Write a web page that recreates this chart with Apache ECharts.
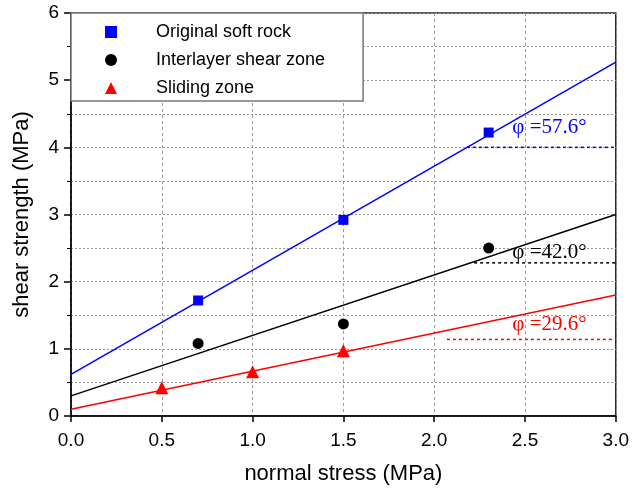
<!DOCTYPE html>
<html><head><meta charset="utf-8">
<script src="https://cdn.jsdelivr.net/npm/echarts@6.0.0/dist/echarts.min.js"></script>
<style>html,body{margin:0;padding:0;background:#fff}#c{width:632px;height:490px}</style>
</head><body><div id="c"></div>
<script>
// Data
const seriesNames = ['Original soft rock', 'Interlayer shear zone', 'Sliding zone'];
const rockX = [0.7, 1.5, 2.3];
const rockY = [1.72, 2.92, 4.22];
const shearX = [0.7, 1.5, 2.3];
const shearY = [1.08, 1.37, 2.50];
const slideX = [0.5, 1.0, 1.5];
const slideY = [0.42, 0.66, 0.97];
// fitted lines (endpoints at x = 0 and x = 3)
const fitX = [0, 3.0];
const rockFit = [0.62, 5.27];
const shearFit = [0.30, 3.00];
const slideFit = [0.10, 1.80];
// horizontal reference segments
const rockRefX = [2.18, 3.0];
const rockRefY = [4.0, 4.0];
const shearRefX = [2.22, 3.0];
const shearRefY = [2.28, 2.28];
const slideRefX = [2.07, 3.0];
const slideRefY = [1.14, 1.14];
// angle labels
const angleText = ['φ =57.6°', 'φ =42.0°', 'φ =29.6°'];
const angleX = [2.43, 2.43, 2.43];
const angleY = [4.29, 2.44, 1.36];
const colors = ['#0000ff', '#000000', '#ff0000'];

const zip = (xs, ys) => xs.map((x, i) => [x, ys[i]]);

const chart = echarts.init(document.getElementById('c'), null, {renderer: 'canvas'});
const font = 'Arial, "Liberation Sans", sans-serif';
const serif = '"Times New Roman", "Liberation Serif", serif';

const scatterBase = (name, data, symbol, size, color) => ({
  name, type: 'scatter', data, symbol, symbolSize: size,
  itemStyle: {color, opacity: 1}, z: 5, emphasis: {disabled: true}
});
const lineBase = (data, color, dashed) => ({
  type: 'line', data, symbol: 'none', silent: true,
  lineStyle: {color, width: 1.5, type: dashed ? [3, 3] : 'solid'},
  z: 3
});

const series = [
  scatterBase(seriesNames[0], zip(rockX, rockY), 'rect', 10, colors[0]),
  scatterBase(seriesNames[1], zip(shearX, shearY), 'circle', 11, colors[1]),
  scatterBase(seriesNames[2], zip(slideX, slideY), 'triangle', 13, colors[2]),
  lineBase(zip(fitX, rockFit), colors[0], false),
  lineBase(zip(fitX, shearFit), colors[1], false),
  lineBase(zip(fitX, slideFit), colors[2], false),
  lineBase(zip(rockRefX, rockRefY), colors[0], true),
  lineBase(zip(shearRefX, shearRefY), colors[1], true),
  lineBase(zip(slideRefX, slideRefY), colors[2], true)
];
angleText.forEach((t, i) => {
  series.push({
    type: 'scatter', silent: true, symbolSize: 0,
    itemStyle: {color: 'rgba(0,0,0,0)', opacity: 1},
    data: [[angleX[i], angleY[i]]], z: 6,
    label: {show: true, position: 'right', distance: 0, formatter: t, opacity: 1,
      color: colors[i], fontFamily: serif, fontSize: 21}
  });
});

chart.setOption({
  animation: false,
  backgroundColor: '#fff',
  grid: {left: 71, right: 15, top: 13, bottom: 74, show: true, borderColor: '#222', borderWidth: 1.5, backgroundColor: 'transparent'},
  legend: {
    data: seriesNames.map(n => ({name: n})),
    orient: 'vertical', left: 71, top: 13,
    itemWidth: 12, itemHeight: 12, itemGap: 8,
    padding: [9, 38, 3, 34],
    backgroundColor: '#fff', borderColor: '#777', borderWidth: 1.5,
    textStyle: {fontFamily: font, fontSize: 18, color: '#000', lineHeight: 20, padding: [0, 0, 0, 34]},
    selectedMode: false, z: 10
  },
  xAxis: {
    type: 'value', min: 0, max: 3, interval: 0.5,
    name: 'normal stress (MPa)', nameLocation: 'middle', nameGap: 47,
    nameTextStyle: {fontFamily: font, fontSize: 22, color: '#000'},
    axisLine: {lineStyle: {color: '#000', width: 1.5}},
    axisTick: {inside: false, length: 6, lineStyle: {color: '#000', width: 1.5}},
    axisLabel: {fontFamily: font, fontSize: 19, color: '#000', margin: 15,
      formatter: v => v.toFixed(1)},
    splitLine: {show: true, lineStyle: {color: '#999', type: [3, 3], width: 1}}
  },
  yAxis: {
    type: 'value', min: 0, max: 6, interval: 1,
    name: 'shear strength (MPa)', nameLocation: 'middle', nameGap: 38,
    nameTextStyle: {fontFamily: font, fontSize: 22, color: '#000'},
    axisLine: {lineStyle: {color: '#000', width: 1.5}},
    axisTick: {inside: false, length: 7, lineStyle: {color: '#000', width: 1.5}},
    minorTick: {show: true, splitNumber: 2, length: 4, lineStyle: {color: '#000', width: 1}},
    axisLabel: {fontFamily: font, fontSize: 19, color: '#000', margin: 12},
    splitLine: {show: true, lineStyle: {color: '#999', type: [2, 2], width: 1}},
    minorSplitLine: {show: true, lineStyle: {color: '#999', type: [2, 2], width: 1}}
  },
  series
});
</script>
</body></html>
